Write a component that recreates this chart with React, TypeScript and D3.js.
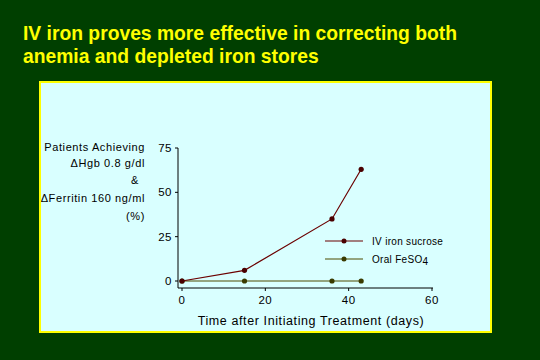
import * as d3 from "d3";

const days = [0, 15, 36, 43];
const ivIron = [0, 6, 35, 63];
const oralFe = [0, 0, 0, 0];
const yTicks = [0, 25, 50, 75];
const xTicks = [0, 20, 40, 60];
const titleLines = [
  "IV iron proves more effective in correcting both",
  "anemia and depleted iron stores",
];

const W = 540;
const H = 360;
const font = "Arial, 'Liberation Sans', sans-serif";

export default function App() {
  const x = d3.scaleLinear().domain([0, 60]).range([182, 432]);
  const y = d3.scaleLinear().domain([0, 75]).range([281, 148]);
  const line = d3
    .line<number>()
    .x((_, i) => x(days[i]))
    .y((d) => y(d));

  const series = [
    { name: "IV iron sucrose", values: ivIron, color: "#6b0000", marker: "#4a0000" },
    { name: "Oral FeSO4", values: oralFe, color: "#4f4a00", marker: "#3a3a00" },
  ];

  return (
    <svg
      width={W}
      height={H}
      style={{ position: "absolute", left: 0, top: 0, display: "block" }}
    >
      <rect width={W} height={H} fill="#003f00" />
      {titleLines.map((t, i) => (
        <text
          key={i}
          x={23}
          y={40 + i * 23}
          fill="#ffff00"
          fontFamily={font}
          fontWeight="bold"
          fontSize={19.3}
        >
          {t}
        </text>
      ))}
      <rect x={40} y={82} width={451} height={250} fill="#d9ffff" stroke="#ffff00" strokeWidth={2} />

      {/* y axis */}
      <line x1={178} x2={178} y1={148} y2={288} stroke="#000" strokeWidth={1} />
      {yTicks.map((t) => (
        <g key={t}>
          <line x1={175} x2={178} y1={y(t)} y2={y(t)} stroke="#000" />
          <text x={172} y={y(t) + 4} textAnchor="end" fontFamily={font} fontSize={11.5} letterSpacing={0.5}>
            {t}
          </text>
        </g>
      ))}
      {/* x axis */}
      <line x1={178} x2={433} y1={288} y2={288} stroke="#000" />
      {xTicks.map((t) => (
        <g key={t}>
          <line x1={x(t)} x2={x(t)} y1={288} y2={291} stroke="#000" />
          <text x={x(t)} y={304} textAnchor="middle" fontFamily={font} fontSize={11.5} letterSpacing={0.5}>
            {t}
          </text>
        </g>
      ))}
      <text x={311} y={325} textAnchor="middle" fontFamily={font} fontSize={12.5} letterSpacing={0.6}>
        Time after Initiating Treatment (days)
      </text>

      {/* y label */}
      <g fontFamily={font} fontSize={11} letterSpacing={0.6} textAnchor="end">
        <text x={145} y={151}>Patients Achieving</text>
        <text x={145} y={167}>ΔHgb 0.8 g/dl</text>
        <text x={139} y={184}>&amp;</text>
        <text x={145} y={202}>ΔFerritin 160 ng/ml</text>
        <text x={145} y={220}>(%)</text>
      </g>

      {/* series (oral drawn first) */}
      {[...series].reverse().map((s) => (
        <g key={s.name}>
          <path d={line(s.values) ?? ""} fill="none" stroke={s.color} strokeWidth={1.2} />
          {s.values.map((v, i) => (
            <circle key={i} cx={x(days[i])} cy={y(v)} r={2.6} fill={s.marker} />
          ))}
        </g>
      ))}

      {/* legend */}
      {series.map((s, i) => {
        const ly = 241 + i * 18;
        return (
          <g key={s.name}>
            <line x1={325} x2={363} y1={ly} y2={ly} stroke={s.color} strokeWidth={1.2} />
            <circle cx={344} cy={ly} r={2.5} fill={s.marker} />
            <text x={372} y={ly + 4} fontFamily={font} fontSize={10} letterSpacing={0.3}>
              {i === 0 ? (
                s.name
              ) : (
                <>
                  Oral FeSO<tspan dy={2}>4</tspan>
                </>
              )}
            </text>
          </g>
        );
      })}
    </svg>
  );
}
